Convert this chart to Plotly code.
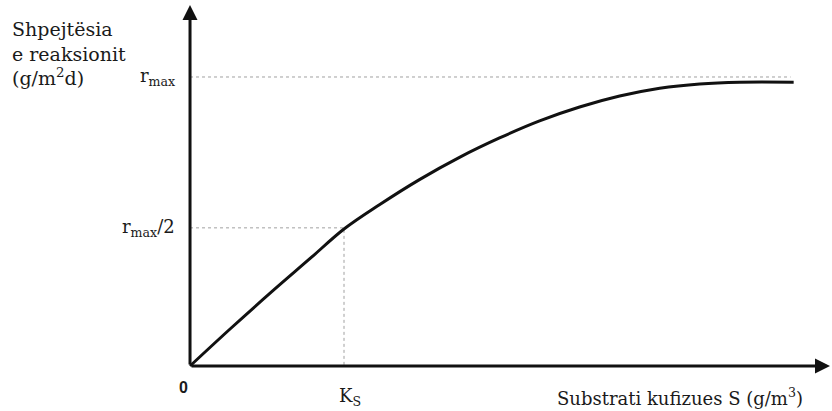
import plotly.graph_objects as go

# Rate curve (Monod-type saturation), S in units of Ks, r in units of r_max
S_VALUES = [0.0, 0.26, 0.52, 0.78, 1.0, 1.23, 1.49, 1.75, 2.01, 2.27,
            2.53, 2.79, 3.05, 3.31, 3.57, 3.92]
R_VALUES = [0.0, 0.128, 0.252, 0.372, 0.474, 0.558, 0.645, 0.722, 0.789, 0.848,
            0.896, 0.934, 0.961, 0.976, 0.982, 0.982]

# Reference levels on the axes
R_MAX_LEVEL = 1.0
R_HALF_LEVEL = 0.478
KS_VALUE = 1.0
R_MAX_GUIDE_END = 3.9

# Axis extents (arrow tips)
X_TIP = 4.156
Y_TIP = 1.249

W, H = 832, 411
X_RANGE = [-1.234, 4.169]
Y_RANGE = [-0.1557, 1.2664]

SERIF = "DejaVu Serif, Liberation Serif, serif"
SANS = "Liberation Sans, Arial, sans-serif"
INK = "#1a1a1a"
GUIDE = "#a0a0a0"

fig = go.Figure()

# guide lines (dotted)
fig.add_trace(go.Scatter(x=[0, R_MAX_GUIDE_END], y=[R_MAX_LEVEL, R_MAX_LEVEL],
                         mode="lines", line=dict(color=GUIDE, width=1, dash="dot"),
                         hoverinfo="skip"))
fig.add_trace(go.Scatter(x=[0, KS_VALUE, KS_VALUE], y=[R_HALF_LEVEL, R_HALF_LEVEL, 0],
                         mode="lines", line=dict(color=GUIDE, width=1, dash="dot"),
                         hoverinfo="skip"))

# rate curve
fig.add_trace(go.Scatter(x=S_VALUES, y=R_VALUES, mode="lines",
                         line=dict(color="#111111", width=3, shape="spline", smoothing=1.0),
                         hoverinfo="skip"))

# axes drawn as arrows from the origin
for tip_x, tip_y in [(X_TIP, 0), (0, Y_TIP)]:
    fig.add_annotation(x=tip_x, y=tip_y, ax=0, ay=0, xref="x", yref="y",
                       axref="x", ayref="y", text="", showarrow=True,
                       arrowhead=2, arrowsize=1.0, arrowwidth=3, arrowcolor="#111111")


def px_x(p):
    return p / W


def px_y(p):
    return 1 - p / H


# y-axis title
fig.add_annotation(x=px_x(10), y=px_y(16), xref="paper", yref="paper",
                   xanchor="left", yanchor="top", align="left", showarrow=False,
                   text="Shpejtësia<br>e reaksionit<br>(g/m<sup>2</sup>d)",
                   font=dict(family=SERIF, size=19, color=INK))

# level labels
fig.add_annotation(x=px_x(177), y=R_MAX_LEVEL, xref="paper", yref="y",
                   xanchor="right", yanchor="middle", showarrow=False,
                   text="r<sub>max</sub>", font=dict(family=SERIF, size=18, color=INK))
fig.add_annotation(x=px_x(177), y=R_HALF_LEVEL, xref="paper", yref="y",
                   xanchor="right", yanchor="middle", showarrow=False,
                   text="r<sub>max</sub>/2", font=dict(family=SERIF, size=18, color=INK))

# origin and Ks labels
fig.add_annotation(x=px_x(183), y=px_y(387), xref="paper", yref="paper",
                   xanchor="center", yanchor="middle", showarrow=False,
                   text="<b>0</b>", font=dict(family=SANS, size=16, color=INK))
fig.add_annotation(x=px_x(350), y=px_y(397), xref="paper", yref="paper",
                   xanchor="center", yanchor="middle", showarrow=False,
                   text="K<sub>S</sub>", font=dict(family=SERIF, size=18, color=INK))

# x-axis title
fig.add_annotation(x=px_x(680), y=px_y(397), xref="paper", yref="paper",
                   xanchor="center", yanchor="middle", showarrow=False,
                   text="Substrati kufizues S (g/m<sup>3</sup>)",
                   font=dict(family=SERIF, size=18, color=INK))

fig.update_layout(
    width=W, height=H,
    margin=dict(l=0, r=0, t=0, b=0),
    paper_bgcolor="white", plot_bgcolor="white",
    showlegend=False,
    xaxis=dict(range=X_RANGE, visible=False, fixedrange=True),
    yaxis=dict(range=Y_RANGE, visible=False, fixedrange=True),
)

fig.write_html("out.html")
